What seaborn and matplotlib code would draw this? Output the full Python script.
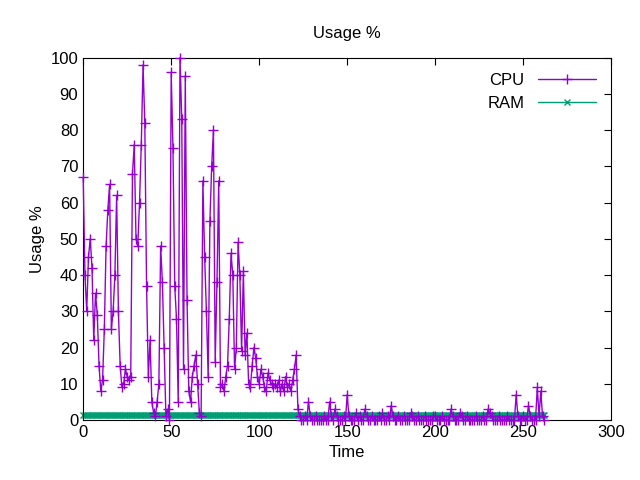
import matplotlib
matplotlib.use("Agg")
import matplotlib.pyplot as plt
import seaborn as sns
import numpy as np

cpu_head = [67, 40, 30, 45, 50, 42, 22, 35, 29, 15,
            8, 11, 25, 48, 58, 65, 25, 30, 40, 62,
            30, 15, 9, 10, 14, 12, 11, 12, 68, 76,
            50, 48, 60, 76, 98, 82, 37, 12, 22, 5,
            2, 1, 5, 10, 48, 38, 20, 1, 3, 0,
            96, 75, 37, 28, 5, 100, 83, 14, 95, 33,
            8, 5, 12, 15, 18, 10, 2, 1, 66, 45,
            30, 12, 55, 70, 80, 16, 38, 66, 9, 10,
            8, 12, 15, 28, 46, 40, 14, 20, 49, 40,
            19, 41, 18, 24, 10, 9, 15, 20, 17, 12,
            10, 14, 12, 9, 8, 13, 11, 10, 9, 10,
            9, 11, 8, 10, 8, 12, 9, 10, 8, 11,
            14, 18, 3, 1, 0]
cpu_tail = [0, 1, 0, 5, 1, 0, 0, 1, 0, 0, 0, 0, 1, 0, 0, 5,
            1, 0, 3, 1, 0, 0, 0, 1, 0, 7, 1, 0, 0, 0, 2, 0,
            1, 0, 0, 3, 1, 0, 0, 1, 0, 0, 0, 1, 0, 2, 0, 0,
            1, 0, 4, 1, 0, 0, 1, 0, 0, 1, 0, 0, 0, 2, 1, 0,
            0, 1, 0, 0, 0, 1, 0, 0, 0, 0, 1, 1, 0, 0, 0, 1,
            0, 0, 0, 0, 3, 1, 0, 0, 0, 2, 1, 0, 0, 1, 0, 0,
            0, 0, 1, 0, 0, 0, 1, 0, 0, 3, 2, 1, 0, 0, 0, 1,
            0, 0, 0, 0, 1, 0, 0, 0, 0, 7, 1, 0, 0, 1, 0, 0,
            4, 1, 0, 0, 0, 9, 1, 8, 1, 0]
cpu = cpu_head + cpu_tail
time = list(range(len(cpu)))
ram = [1.5] * len(cpu)

sns.set_style("white")
plt.rcParams["font.family"] = "Liberation Sans"
plt.rcParams["text.color"] = "black"
plt.rcParams["axes.labelcolor"] = "black"
plt.rcParams["xtick.color"] = "black"
plt.rcParams["ytick.color"] = "black"
fig, ax = plt.subplots(figsize=(6.4, 4.8), dpi=100)
sns.lineplot(x=time, y=cpu, ax=ax, color="#9400d3", lw=1, marker="+", ms=7,
             mew=1, mec="#9400d3", label="CPU", clip_on=False, zorder=3)
sns.lineplot(x=time, y=ram, ax=ax, color="#009e73", lw=1, marker="x", ms=4,
             mew=1, mec="#009e73", label="RAM", clip_on=False, zorder=2)
ax.set_xlim(0, 300)
ax.set_ylim(0, 100)
ax.set_xticks(range(0, 301, 50))
ax.set_yticks(range(0, 101, 10))
ax.tick_params(direction="in", top=True, right=True, length=5, labelsize=12)
for s in ax.spines.values():
    s.set_color("black")
ax.set_xlabel("Time", fontsize=12)
ax.set_ylabel("Usage %", fontsize=12)
ax.set_title("Usage %", fontsize=12, pad=14)
leg = ax.legend(loc="upper right", frameon=False, fontsize=12, markerfirst=False,
                handlelength=3.5)
plt.subplots_adjust(left=0.13, right=0.955, top=0.88, bottom=0.125)
plt.savefig("out.png")
